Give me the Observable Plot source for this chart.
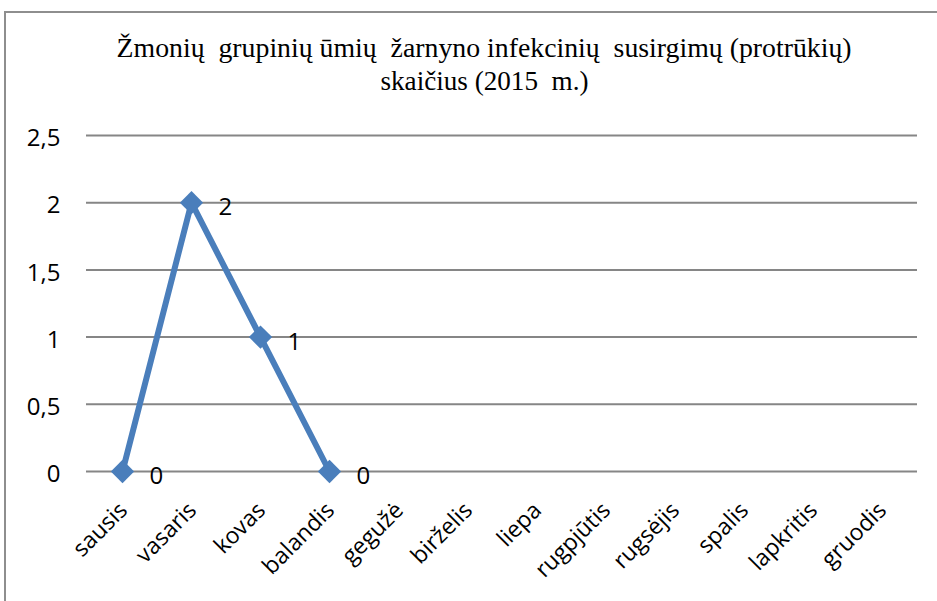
<!DOCTYPE html>
<html>
<head>
<meta charset="utf-8">
<script src="https://cdn.jsdelivr.net/npm/d3@7"></script>
<script src="https://cdn.jsdelivr.net/npm/@observablehq/plot@0.6"></script>
<style>
  html, body { margin: 0; padding: 0; background: #fff; }
  #page { position: relative; width: 937px; height: 601px; overflow: hidden; }
  #border { position: absolute; left: 4px; top: 11px; width: 1200px; height: 1200px;
            border-left: 2px solid #8e8e8e; border-top: 2px solid #8e8e8e; }
  #chart { position: absolute; left: 0; top: 0; }
  #title { position: absolute; left: 0; top: 32px; width: 969px; text-align: center;
           font-family: "Liberation Serif", "Times New Roman", serif; font-size: 27px;
           line-height: 32.5px; color: #000; white-space: pre; }
  #title div { display: block; height: 32.5px; }
  #title span { display: inline-block; transform-origin: 50% 50%; }
</style>
</head>
<body>
<div id="page">
  <div id="border"></div>
  <div id="chart"></div>
  <div id="title"><div><span id="t1">Žmonių  grupinių ūmių  žarnyno infekcinių  susirgimų (protrūkių)</span></div><div><span id="t2">skaičius (2015  m.)</span></div></div>
</div>
<script>
const months = ["sausis", "vasaris", "kovas", "balandis", "gegužė", "birželis", "liepa", "rugpjūtis", "rugsėjis", "spalis", "lapkritis", "gruodis"];
const valueMonths = ["sausis", "vasaris", "kovas", "balandis"];
const values = [0, 2, 1, 0];
const yTicks = [0, 0.5, 1, 1.5, 2, 2.5];

const data = valueMonths.map((m, i) => ({month: m, value: values[i]}));
const blue = "#4a7ebb";
const font = "'Open Sans', sans-serif";

const chart = Plot.plot({
  width: 937,
  height: 601,
  marginLeft: 86,
  marginRight: 20,
  marginTop: 135,
  marginBottom: 130,
  style: {fontFamily: font, fontSize: "22px", color: "#000", background: "transparent"},
  x: {type: "point", domain: months, padding: 0.5},
  y: {domain: [0, 2.5], ticks: yTicks},
  marks: [
    Plot.ruleY(yTicks, {stroke: "#868686", strokeWidth: 2}),
    Plot.axisY({ticks: yTicks, tickSize: 0, tickPadding: 26, dy: 3,
      tickFormat: d => String(d).replace(".", ","), label: null, fontSize: 24, fontFamily: font}),
    Plot.axisX({tickSize: 0, tickRotate: -45, tickPadding: 35, dx: 1, label: null, fontSize: 23, fontFamily: font}),
    Plot.line(data, {x: "month", y: "value", stroke: blue, strokeWidth: 6, strokeLinejoin: "miter"}),
    Plot.dot(data, {x: "month", y: "value", symbol: "diamond2", r: 10.5, fill: blue, stroke: null}),
    Plot.text(data, {x: "month", y: "value", text: d => String(d.value), textAnchor: "start",
      lineAnchor: "middle", dx: 27, dy: 5, fontSize: 24, fontFamily: font, fill: "#000"})
  ]
});
document.getElementById("chart").appendChild(chart);

function fit(id, target) {
  const el = document.getElementById(id);
  const w = el.getBoundingClientRect().width;
  el.style.transform = `scaleX(${target / w})`;
}
fit("t1", 735);
fit("t2", 208);
</script>
</body>
</html>
